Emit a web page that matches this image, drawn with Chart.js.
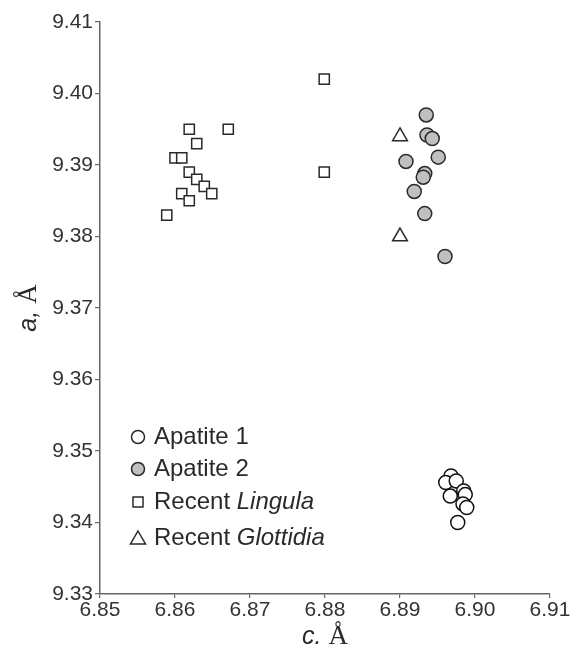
<!DOCTYPE html>
<html>
<head>
<meta charset="utf-8">
<script src="https://cdn.jsdelivr.net/npm/chart.js@4"></script>
<style>
  html, body { margin: 0; background: #fff; }
  #wrap { width: 571px; height: 653px; }
</style>
</head>
<body>
<div id="wrap"><canvas id="chart"></canvas></div>
<script>
// c (x) and a (y) values
const apatite1C = [6.8968, 6.8961, 6.8975, 6.8967, 6.8985, 6.8987, 6.8984, 6.8989, 6.8977];
const apatite1A = [9.3465, 9.3456, 9.3458, 9.3437, 9.3444, 9.3439, 9.3426, 9.3421, 9.3400];

const apatite2C = [6.8935, 6.8936, 6.8943, 6.8908, 6.8951, 6.8933, 6.8931, 6.8919, 6.8933, 6.8960];
const apatite2A = [9.3970, 9.3942, 9.3937, 9.3905, 9.3911, 9.3888, 9.3883, 9.3863, 9.3832, 9.3772];

const lingulaC = [6.8619, 6.8671, 6.8629, 6.8600, 6.8609, 6.8619, 6.8629, 6.8639, 6.8649, 6.8609, 6.8619, 6.8589, 6.8799, 6.8799];
const lingulaA = [9.3950, 9.3950, 9.3930, 9.3910, 9.3910, 9.3890, 9.3880, 9.3870, 9.3860, 9.3860, 9.3850, 9.3830, 9.4020, 9.3890];

const glottidiaC = [6.8900, 6.8900];
const glottidiaA = [9.3940, 9.3800];

const xTicks = [6.85, 6.86, 6.87, 6.88, 6.89, 6.90, 6.91];
const yTicks = [9.33, 9.34, 9.35, 9.36, 9.37, 9.38, 9.39, 9.40, 9.41];

const legendItems = [
  { parts: [['Apatite 1', false]], style: 'circle', fill: '#fff' },
  { parts: [['Apatite 2', false]], style: 'circle', fill: '#c0c0c0' },
  { parts: [['Recent ', false], ['Lingula', true]], style: 'rect', fill: '#fff' },
  { parts: [['Recent ', false], ['Glottidia', true]], style: 'triangle', fill: '#fff' }
];

function pts(xs, ys) {
  return xs.map((x, i) => ({ x: x, y: ys[i] }));
}

const ink = '#2a2a2a';
const sans = '"Liberation Sans", Arial, sans-serif';
const serif = '"Liberation Serif", "Times New Roman", serif';

// legend + axis titles with mixed italic text
const extras = {
  id: 'extras',
  afterDraw(chart) {
    const ctx = chart.ctx;
    const area = chart.chartArea;
    ctx.save();
    ctx.fillStyle = ink;
    ctx.textBaseline = 'middle';

    // legend
    const lx = area.left + 38;
    const rows = [437, 469, 502, 538];
    legendItems.forEach((it, i) => {
      const y = rows[i];
      ctx.beginPath();
      ctx.lineWidth = 1.5;
      ctx.strokeStyle = ink;
      ctx.fillStyle = it.fill;
      if (it.style === 'circle') {
        ctx.arc(lx, y, 6.5, 0, Math.PI * 2);
      } else if (it.style === 'rect') {
        ctx.rect(lx - 5, y - 5, 10, 10);
      } else {
        ctx.moveTo(lx, y - 7);
        ctx.lineTo(lx + 7.5, y + 6);
        ctx.lineTo(lx - 7.5, y + 6);
        ctx.closePath();
      }
      ctx.fill();
      ctx.stroke();
      let tx = lx + 16;
      ctx.fillStyle = ink;
      ctx.textAlign = 'left';
      it.parts.forEach(([txt, ital]) => {
        ctx.font = (ital ? 'italic ' : '') + '24px ' + sans;
        ctx.fillText(txt, tx, y);
        tx += ctx.measureText(txt).width;
      });
    });

    // x title "c. Å"
    const cx = (area.left + area.right) / 2;
    ctx.font = 'italic 25px ' + sans;
    const w1 = ctx.measureText('c. ').width;
    ctx.font = '27px ' + serif;
    const w2 = ctx.measureText('Å').width;
    let sx = cx - (w1 + w2) / 2;
    ctx.font = 'italic 25px ' + sans;
    ctx.fillText('c. ', sx, 637);
    ctx.font = '27px ' + serif;
    ctx.fillText('Å', sx + w1, 637);

    // y title "a, Å"
    ctx.translate(29, (area.top + area.bottom) / 2);
    ctx.rotate(-Math.PI / 2);
    ctx.font = 'italic 25px ' + sans;
    const v1 = ctx.measureText('a, ').width;
    ctx.font = '27px ' + serif;
    const v2 = ctx.measureText('Å').width;
    sx = -(v1 + v2) / 2;
    ctx.font = 'italic 25px ' + sans;
    ctx.fillText('a, ', sx, 0);
    ctx.font = '27px ' + serif;
    ctx.fillText('Å', sx + v1, 0);
    ctx.restore();
  }
};

const tickFont = { family: sans, size: 21 };

new Chart(document.getElementById('chart'), {
  type: 'scatter',
  data: {
    datasets: [
      { label: 'Recent Lingula', data: pts(lingulaC, lingulaA), pointStyle: 'rect', pointRadius: 7.2,
        backgroundColor: '#fff', borderColor: ink, borderWidth: 1.5 },
      { label: 'Recent Glottidia', data: pts(glottidiaC, glottidiaA), pointStyle: 'triangle', pointRadius: 8.5,
        backgroundColor: '#fff', borderColor: ink, borderWidth: 1.5 },
      { label: 'Apatite 2', data: pts(apatite2C, apatite2A), pointStyle: 'circle', pointRadius: 7,
        backgroundColor: '#c0c0c0', borderColor: ink, borderWidth: 1.5 },
      { label: 'Apatite 1', data: pts(apatite1C, apatite1A), pointStyle: 'circle', pointRadius: 7,
        backgroundColor: '#fff', borderColor: '#111', borderWidth: 1.5 }
    ]
  },
  options: {
    responsive: true,
    maintainAspectRatio: false,
    animation: false,
    layout: { padding: { top: 22, right: 21, left: 0, bottom: 0 } },
    plugins: { legend: { display: false }, tooltip: { enabled: false } },
    scales: {
      x: {
        type: 'linear',
        min: xTicks[0], max: xTicks[xTicks.length - 1],
        afterBuildTicks: s => { s.ticks = xTicks.map(v => ({ value: v })); },
        afterFit: s => { s.height = 59; },
        ticks: { font: tickFont, color: '#333', padding: 0, maxRotation: 0, callback: v => v.toFixed(2) },
        grid: { drawOnChartArea: false, tickLength: 4, color: '#666', lineWidth: 1.2 },
        border: { color: '#666', width: 1.5 }
      },
      y: {
        type: 'linear',
        min: yTicks[0], max: yTicks[yTicks.length - 1],
        afterBuildTicks: s => { s.ticks = yTicks.map(v => ({ value: v })); },
        afterFit: s => { s.width = 100; },
        ticks: { font: tickFont, color: '#333', padding: 2, callback: v => v.toFixed(2) },
        grid: { drawOnChartArea: false, tickLength: 5, color: '#666', lineWidth: 1.2 },
        border: { color: '#666', width: 1.5 }
      }
    }
  },
  plugins: [extras]
});
</script>
</body>
</html>
